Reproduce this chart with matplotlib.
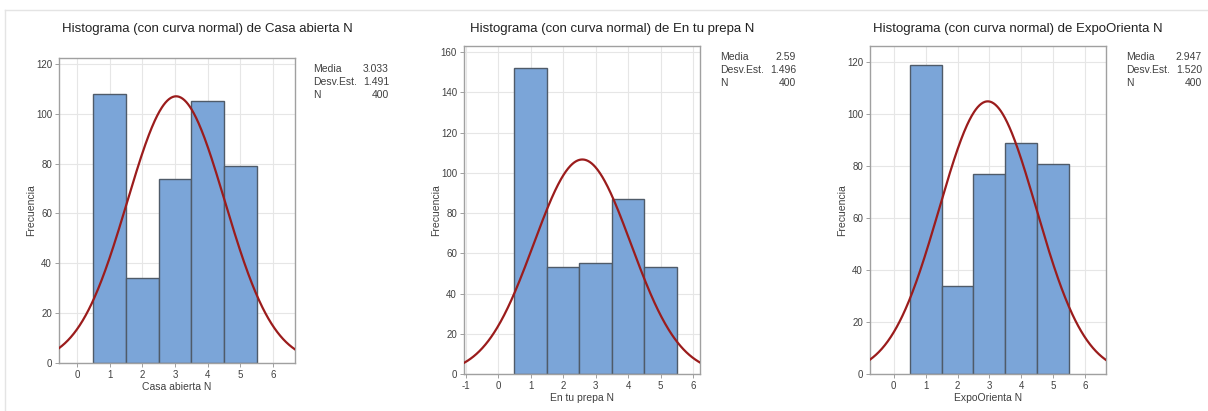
import numpy as np
import matplotlib
matplotlib.use('Agg')
import matplotlib.pyplot as plt
from matplotlib.lines import Line2D

plt.rcParams['font.family'] = ['Liberation Sans', 'DejaVu Sans']
plt.rcParams['axes.unicode_minus'] = False

# datos
variables = ['Casa abierta N', 'En tu prepa N', 'ExpoOrienta N']
categorias = [1, 2, 3, 4, 5]
frec_casa = [108, 34, 74, 105, 79]
frec_prepa = [152, 53, 55, 87, 53]
frec_expo = [119, 34, 77, 89, 81]
medias = [3.033, 2.59, 2.947]
desv = [1.491, 1.496, 1.520]
n_total = [400, 400, 400]
textos_media = ['3.033', '2.59', '2.947']
textos_desv = ['1.491', '1.496', '1.520']

W, H = 1208, 411
fig = plt.figure(figsize=(W / 100, H / 100), dpi=100)

# geometria en pixeles: (izq, der, arriba, abajo)
cajas = [(59, 295, 58, 363), (464, 700, 46, 374), (870, 1106, 46, 374)]
xlims = [(-0.55, 6.67), (-1.05, 6.21), (-0.74, 6.65)]
ylims = [122.4, 163.1, 126.3]
yticks = [range(0, 121, 20), range(0, 161, 20), range(0, 121, 20)]
xticks = [range(0, 7), range(-1, 7), range(0, 7)]
texto_y = [69, 57, 57]
texto_x = [(313, 389), (720, 796), (1126, 1202)]
titulo_y = 29
xlabel_y = [387, 398, 398]

color_barra = '#7BA5D8'
color_borde = '#4F5B69'
color_curva = '#9B1C1C'
gris_txt = '#404040'

frecs = [frec_casa, frec_prepa, frec_expo]

for i in range(3):
    l, r, t, b = cajas[i]
    ax = fig.add_axes([l / W, 1 - b / H, (r - l) / W, (b - t) / H])
    ax.bar(categorias, frecs[i], width=1.0, color=color_barra,
           edgecolor=color_borde, linewidth=1.0, zorder=2)
    xs = np.linspace(xlims[i][0], xlims[i][1], 400)
    pdf = np.exp(-0.5 * ((xs - medias[i]) / desv[i]) ** 2) / (desv[i] * np.sqrt(2 * np.pi))
    ax.plot(xs, n_total[i] * pdf, color=color_curva, linewidth=1.6, zorder=3)
    ax.set_xlim(*xlims[i])
    ax.set_ylim(0, ylims[i])
    ax.set_xticks(list(xticks[i]))
    ax.set_yticks(list(yticks[i]))
    ax.grid(True, color='#E6E6E6', linewidth=0.8, zorder=0)
    ax.set_axisbelow(True)
    for s in ax.spines.values():
        s.set_color('#A0A0A0')
        s.set_linewidth(1.0)
    ax.tick_params(labelsize=7, colors=gris_txt, length=3, width=0.7, pad=2)
    ax.tick_params(color='#A0A0A0')
    ax.set_ylabel('Frecuencia', fontsize=7.5, color=gris_txt, labelpad=0)
    cx = (l + r) / 2
    fig.text(cx / W, 1 - xlabel_y[i] / H, variables[i], fontsize=7.5,
             color=gris_txt, ha='center', va='center')
    fig.text((cx + 30) / W, 1 - titulo_y / H,
             'Histograma (con curva normal) de ' + variables[i],
             fontsize=9.5, color='#222222', ha='center', va='center')
    etiquetas = ['Media', 'Desv.Est.', 'N']
    valores = [textos_media[i], textos_desv[i], str(n_total[i])]
    for k in range(3):
        yy = 1 - (texto_y[i] + 13 * k) / H
        fig.text(texto_x[i][0] / W, yy, etiquetas[k], fontsize=7.5,
                 color=gris_txt, ha='left', va='center')
        fig.text(texto_x[i][1] / W, yy, valores[k], fontsize=7.5,
                 color=gris_txt, ha='right', va='center')

# marco tenue de la captura
fig.add_artist(Line2D([5 / W, 1], [1 - 10 / H, 1 - 10 / H], color='#E4E4E4', linewidth=1))
fig.add_artist(Line2D([5 / W, 5 / W], [0, 1 - 10 / H], color='#E4E4E4', linewidth=1))

fig.savefig('out.png', dpi=100)
